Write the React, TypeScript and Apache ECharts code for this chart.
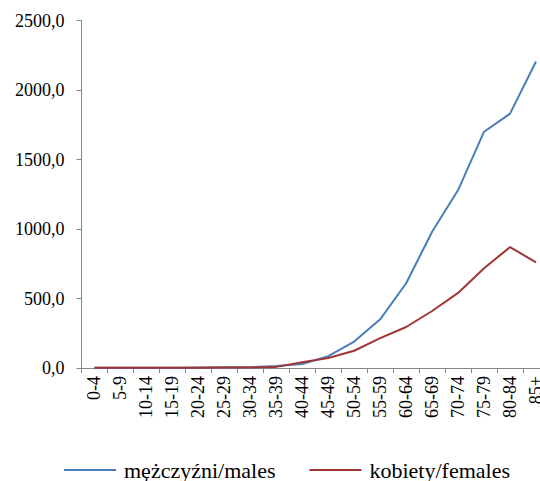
import React, { useEffect, useRef } from "react";
import * as echarts from "echarts";

const categories = ["0-4", "5-9", "10-14", "15-19", "20-24", "25-29", "30-34", "35-39", "40-44", "45-49", "50-54", "55-59", "60-64", "65-69", "70-74", "75-79", "80-84", "85+"];
const males = [2, 1, 1, 2, 4, 5, 6, 15, 28, 85, 190, 350, 610, 980, 1280, 1700, 1830, 2205];
const females = [1, 1, 1, 1, 2, 3, 4, 8, 42, 72, 124, 215, 295, 410, 540, 718, 870, 760];
const seriesNames = ["mężczyźni/males", "kobiety/females"];

const FONT = "Liberation Serif";

export default function App() {
  const ref = useRef<HTMLDivElement>(null);
  useEffect(() => {
    if (!ref.current) return;
    const chart = echarts.init(ref.current, undefined, { renderer: "svg" });
    chart.setOption({
      animation: false,
      textStyle: { fontFamily: FONT },
      grid: { left: 81.5, right: 0, top: 20.5, bottom: 113 },
      legend: {
        left: 64,
        top: 459,
        padding: 0,
        icon: "rect",
        itemWidth: 52,
        itemHeight: 2,
        itemGap: 34,
        textStyle: { fontFamily: FONT, fontSize: 22, lineHeight: 20, color: "#000", padding: [0, 0, 0, 3] },
        data: seriesNames,
      },
      xAxis: {
        type: "category",
        data: categories,
        boundaryGap: true,
        axisLine: { lineStyle: { color: "#868686", width: 1 } },
        axisTick: { show: true, length: 5, alignWithLabel: false, lineStyle: { color: "#868686" } },
        axisLabel: { rotate: 90, fontSize: 18, color: "#000", fontFamily: FONT, margin: 8, interval: 0 },
        splitLine: { show: false },
      },
      yAxis: {
        type: "value",
        min: 0,
        max: 2500,
        interval: 500,
        axisLine: { show: true, lineStyle: { color: "#868686", width: 1 } },
        axisTick: { show: true, length: 5, lineStyle: { color: "#868686" } },
        axisLabel: {
          fontSize: 18,
          color: "#000",
          fontFamily: FONT,
          margin: 17,
          formatter: (v: number) => v.toFixed(1).replace(".", ","),
        },
        splitLine: { show: false },
      },
      series: [
        {
          name: seriesNames[0],
          type: "line",
          data: males,
          symbol: "none",
          lineStyle: { color: "#4A7EBB", width: 2 },
          itemStyle: { color: "#4A7EBB" },
        },
        {
          name: seriesNames[1],
          type: "line",
          data: females,
          symbol: "none",
          lineStyle: { color: "#A03535", width: 2 },
          itemStyle: { color: "#A03535" },
        },
      ],
    });
    return () => chart.dispose();
  }, []);
  return (
    <div style={{ width: 540, height: 481, position: "absolute", left: 0, top: 0, overflow: "hidden" }}>
      <div ref={ref} style={{ width: 549, height: 481 }} />
    </div>
  );
}
